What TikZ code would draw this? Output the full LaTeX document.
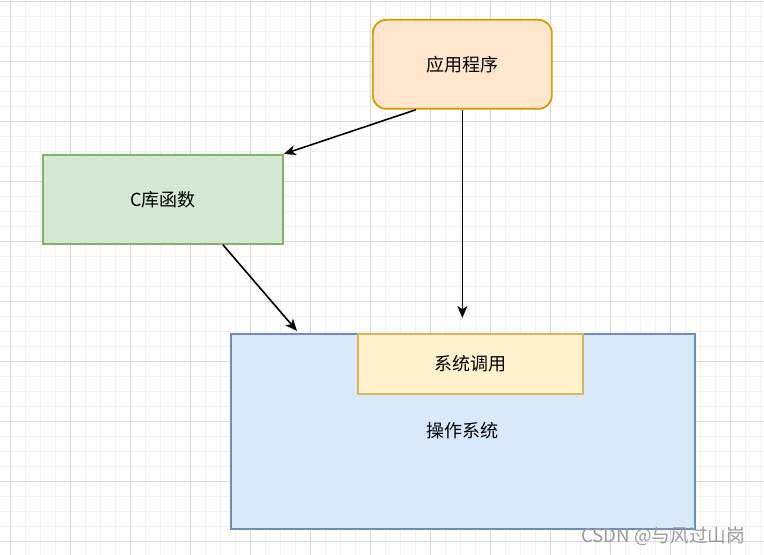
\documentclass[tikz,border=0pt]{standalone}
\usepackage{fontspec}
\setmainfont{Noto Sans CJK SC}
\usetikzlibrary{arrows.meta,calc}
\definecolor{gridminor}{HTML}{F3F3F3}
\definecolor{gridmajor}{HTML}{D8D8D8}
\definecolor{appfill}{HTML}{FFE6CC}
\definecolor{appdraw}{HTML}{D79B00}
\definecolor{libfill}{HTML}{D5E8D4}
\definecolor{libdraw}{HTML}{82B366}
\definecolor{osfill}{HTML}{DAE8FC}
\definecolor{osdraw}{HTML}{6C8EBF}
\definecolor{sysfill}{HTML}{FFF2CC}
\definecolor{sysdraw}{HTML}{D6B656}
\definecolor{wm}{HTML}{9A9A9A}
\tikzset{
  txt/.style={font=\fontsize{13.5}{16}\selectfont, text=black},
  box/.style={draw, line width=1.3pt, inner sep=0pt, anchor=north west, txt},
  conn/.style={line width=1.2pt, -{Stealth[length=9pt,width=7.5pt,inset=2.5pt]}},
}
\begin{document}
\begin{tikzpicture}[x=0.75pt,y=-0.75pt]
\useasboundingbox (0,0) rectangle (764,555);
\fill[white] (0,0) rectangle (764,555);
% minor grid
\foreach \i in {0,...,51} {
  \draw[gridminor, line width=0.75pt] ({10+15*(\i-1)},0) -- ({10+15*(\i-1)},555);
}
\foreach \j in {0,...,37} {
  \draw[gridminor, line width=0.75pt] (0,{2+15*\j}) -- (764,{2+15*\j});
}
% major grid
\foreach \i in {0,...,12} {
  \draw[gridmajor, line width=0.75pt] ({10+60*\i},0) -- ({10+60*\i},555);
}
\foreach \j in {0,...,9} {
  \draw[gridmajor, line width=0.75pt] (0,{2+60*\j}) -- (764,{2+60*\j});
}
% nodes
\node[box, fill=appfill, draw=appdraw, rounded corners=10pt,
  minimum width=134.25pt, minimum height=66.75pt] (app) at (372,19) {应用程序};
\node[box, fill=libfill, draw=libdraw,
  minimum width=180pt, minimum height=66.75pt] (lib) at (42,154) {};
\node[txt] (libtext) at (lib.center) {C库函数};
\node[box, fill=osfill, draw=osdraw,
  minimum width=348pt, minimum height=146.25pt] (os) at (230,333) {};
\node[txt] (ostext) at (462,431) {操作系统};
\node[box, fill=sysfill, draw=sysdraw,
  minimum width=168.75pt, minimum height=45pt] (sys) at (357,333) {系统调用};
\coordinate (sysin) at ($(app.south |- sys.north)+(0,-15)$);
% connectors
\draw[conn] ($(app.south)+(-46.5,0)$) -- (lib.north east);
\draw[conn] (app.south) -- (sysin);
\draw[conn] ($(lib.south)+(60,0)$) -- ($(os.north west)+(67,-2)$);
% watermark
\node[text=wm, font=\fontsize{14}{16}\selectfont, anchor=east] (wmk) at (750,536) {CSDN @与风过山岗};
\end{tikzpicture}
\end{document}
